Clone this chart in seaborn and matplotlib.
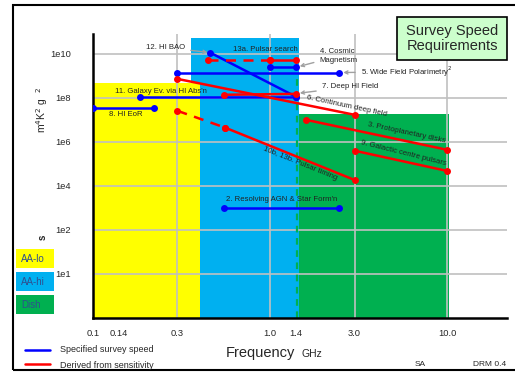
import matplotlib
matplotlib.use('Agg')
import matplotlib.pyplot as plt
import seaborn as sns
import pandas as pd
from matplotlib.patches import Rectangle

# ---- data (frequency in GHz, survey speed as log10 of m^4 K^-2 deg^-2) ----
seg_name = ['8', '11', '12', '5', '4', '2',
            '13a_d', '13a', '6', '7', '10b_d', '10b', '3', '9']
seg_kind = ['spec'] * 6 + ['deriv'] * 8
seg_dash = [False] * 6 + [True, False, False, False, True, False, False, False]
seg_f0 = [0.10, 0.185, 0.46, 0.30, 1.0, 0.55, 0.447, 1.0, 0.30, 0.55, 0.30, 0.56, 1.6, 3.0]
seg_f1 = [0.22, 1.40, 1.40, 2.46, 1.4, 2.46, 1.00, 1.4, 3.00, 1.40, 0.56, 3.00, 10.0, 10.0]
seg_s0 = [7.55, 8.05, 10.05, 9.15, 9.4, 3.0, 9.7, 9.7, 8.86, 8.14, 7.41, 6.64, 7.00, 5.60]
seg_s1 = [7.55, 8.05, 8.05, 9.15, 9.4, 3.0, 9.7, 9.7, 7.23, 8.18, 6.64, 4.27, 5.64, 4.68]

region_name = ['AA-lo', 'AA-hi', 'Dish']
region_lo = [0.10, 0.36, 1.45]
region_hi = [0.40, 1.45, 10.2]
region_top = [8.68, 10.73, 7.27]
region_col = ['#FFFF00', '#00B0F0', '#00B050']
region_order = [1, 0, 2]  # blue drawn under yellow

xtick_vals = [0.1, 0.14, 0.3, 1.0, 1.4, 3.0, 10.0]
xtick_lbls = ['0.1', '0.14', '0.3', '1.0', '1.4', '3.0', '10.0']
xgrid_vals = [0.3, 1.0, 3.0, 10.0]
ytick_vals = [0, 2, 4, 6, 8, 10]
ytick_lbls = ['1e1', '1e2', '1e4', '1e6', '1e8', '1e10']

segs = pd.DataFrame({'name': seg_name, 'kind': seg_kind, 'dash': seg_dash,
                     'f0': seg_f0, 'f1': seg_f1, 's0': seg_s0, 's1': seg_s1})

sns.set_style('white')
plt.rcParams['font.family'] = ['Liberation Sans', 'DejaVu Sans']

fig = plt.figure(figsize=(5.15, 3.72), dpi=100)
ax = fig.add_axes([0.1806, 0.1452, 0.8039, 0.7634])
ax.set_xscale('log')
ax.set_xlim(0.1, 21.8)
ax.set_ylim(-2, 10.9)

# coloured instrument bands
for i in region_order:
    ax.fill_between([region_lo[i], region_hi[i]], -2, region_top[i],
                    color=region_col[i], lw=0, zorder=0.5)
ax.plot([1.42, 1.42], [-2, 8.95], color='#00B050', lw=1.6, ls=(0, (3, 2.5)), zorder=1.5)

# grid
for v in ytick_vals:
    ax.axhline(v, color='#c0c0c0', lw=1.2, zorder=1)
for v in xgrid_vals:
    ax.axvline(v, color='#c0c0c0', lw=1.2, zorder=1)

# requirement segments
for _, r in segs.iterrows():
    col = '#0000FF' if r['kind'] == 'spec' else '#FF0000'
    d = pd.DataFrame({'f': [r['f0'], r['f1']], 's': [r['s0'], r['s1']]})
    sns.lineplot(data=d, x='f', y='s', ax=ax, color=col, lw=1.8,
                 linestyle=(0, (4, 3)) if r['dash'] else '-',
                 marker='o', markersize=5, markeredgewidth=0,
                 estimator=None, sort=False, zorder=3)

# labels
tk = dict(fontsize=5.6, color='#222222', zorder=4)
gray_arrow = dict(arrowstyle='->', color='#a0a0a0', lw=1.0)
ax.annotate('12. HI BAO', xy=(0.46, 10.05), xytext=(0.33, 10.3), ha='right', va='center',
            arrowprops=gray_arrow, **tk)
ax.text(0.94, 10.18, '13a. Pulsar search', ha='center', va='center', **tk)
ax.annotate('4. Cosmic\nMagnetism', xy=(1.42, 9.4), xytext=(1.91, 9.91), ha='left', va='center',
            arrowprops=gray_arrow, linespacing=1.4, **tk)
ax.annotate('5. Wide Field Polarimetry$^2$', xy=(2.5, 9.15), xytext=(3.27, 9.18), ha='left',
            va='center', arrowprops=gray_arrow, **tk)
ax.annotate('7. Deep HI Field', xy=(1.42, 8.2), xytext=(1.97, 8.5), ha='left', va='center',
            arrowprops=gray_arrow, **tk)
ax.text(2.7, 7.64, '6. Continuum deep field', ha='center', va='center', rotation=-12, **tk)
ax.text(5.86, 6.41, '3. Protoplanetary disks', ha='center', va='center', rotation=-12, **tk)
ax.text(5.64, 5.5, '9. Galactic centre pulsars', ha='center', va='center', rotation=-14, **tk)
ax.text(1.47, 5.0, '10b, 13b. Pulsar timing', ha='center', va='center', rotation=-22, **tk)
ax.text(1.17, 3.36, "2. Resolving AGN & Star Form'n", ha='center', va='center', **tk)
ax.text(0.242, 8.27, "11. Galaxy Ev. via HI Abs'n", ha='center', va='center', **tk)
ax.text(0.154, 7.23, '8. HI EoR', ha='center', va='center', **tk)

# axes styling
ax.set_xticks(xtick_vals)
ax.set_xticklabels(xtick_lbls)
ax.minorticks_off()
ax.set_yticks(ytick_vals)
ax.set_yticklabels(ytick_lbls)
ax.tick_params(axis='both', length=6, width=1.2, color='black', labelsize=6.7, direction='out')
ax.tick_params(axis='y', pad=10)
ax.tick_params(axis='x', pad=2)
for s in ['top', 'right']:
    ax.spines[s].set_visible(False)
for s in ['left', 'bottom']:
    ax.spines[s].set_linewidth(1.8)
    ax.spines[s].set_color('black')
ax.set_xlabel('')
ax.set_ylabel('')

# figure-level decorations
fig.patches.append(Rectangle((13 / 515, 2 / 372), 510 / 515, 365 / 372, transform=fig.transFigure,
                             fill=False, ec='black', lw=1.5))
fig.text(42 / 515, 1 - 110 / 372, 'm$^4$K$^2$ g  $^2$', rotation=90, ha='center', va='center',
         fontsize=7.5)
fig.text(43 / 515, 1 - 237 / 372, 's', rotation=90, ha='center', va='center', fontsize=7,
         fontweight='bold')
box_top = [249, 272, 295]
for name, col, t in zip(region_name, region_col, box_top):
    fig.patches.append(Rectangle((16 / 515, 1 - (t + 19) / 372), 38 / 515, 19 / 372,
                                 transform=fig.transFigure, color=col, lw=0))
    fig.text(21 / 515, 1 - (t + 10) / 372, name, ha='left', va='center', fontsize=7,
             color='#2f4f8f')

fig.patches.append(Rectangle((397 / 515, 1 - 60 / 372), 110 / 515, 43 / 372,
                             transform=fig.transFigure, fc='#CCFFCC', ec='black', lw=1.2, zorder=5))
fig.text(452 / 515, 1 - 38.5 / 372, 'Survey Speed\nRequirements', ha='center', va='center',
         fontsize=10.5, linespacing=1.15, zorder=6)

fig.text(260 / 515, 1 - 353 / 372, 'Frequency', ha='center', va='center', fontsize=10.5)
fig.text(302 / 515, 1 - 354 / 372, 'GHz', ha='left', va='center', fontsize=7.5)
fig.lines.append(plt.Line2D([25 / 515, 50 / 515], [1 - 350 / 372] * 2, transform=fig.transFigure,
                            color='#0000FF', lw=1.8))
fig.lines.append(plt.Line2D([25 / 515, 50 / 515], [1 - 364 / 372] * 2, transform=fig.transFigure,
                            color='#FF0000', lw=1.8))
fig.text(60 / 515, 1 - 350 / 372, 'Specified survey speed', ha='left', va='center', fontsize=6.5)
fig.text(60 / 515, 1 - 365 / 372, 'Derived from sensitivity', ha='left', va='center', fontsize=6.5)
fig.text(420 / 515, 1 - 364 / 372, 'SA', ha='center', va='center', fontsize=6)
fig.text(490 / 515, 1 - 364 / 372, 'DRM 0.4', ha='center', va='center', fontsize=6)

fig.savefig('out.png', dpi=100)
